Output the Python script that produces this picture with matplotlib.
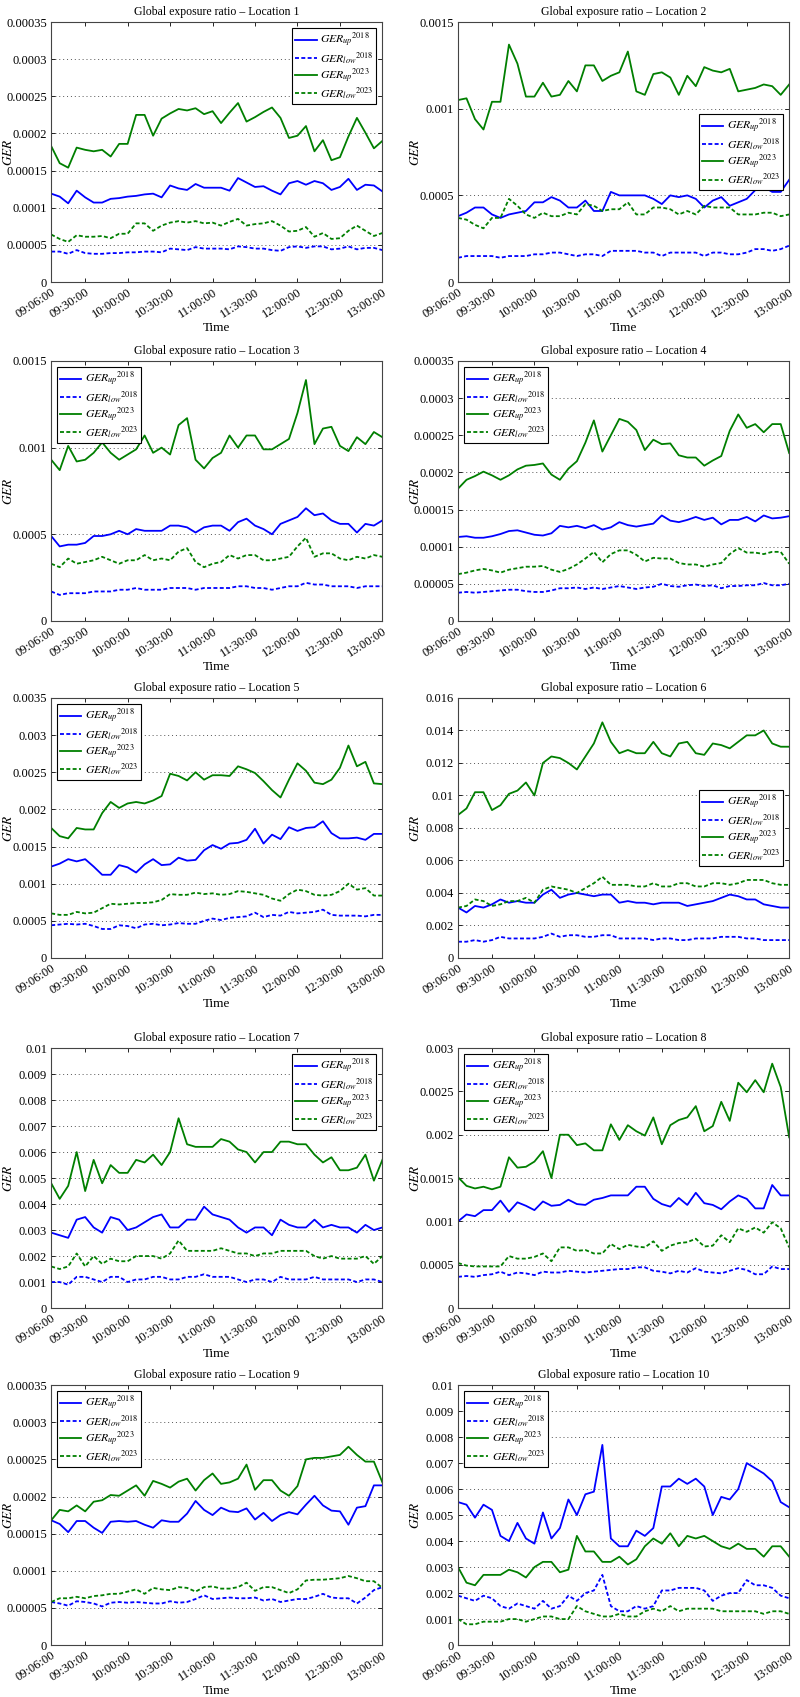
import numpy as np
import matplotlib
matplotlib.use('Agg')
import matplotlib.pyplot as plt
from matplotlib.ticker import FuncFormatter, MultipleLocator

plt.rcParams['font.family'] = ['Liberation Serif', 'DejaVu Serif']
plt.rcParams['mathtext.fontset'] = 'stix'

# sample times: every 6 minutes from 09:06 to 13:00 (minutes after 09:00)
minutes = np.arange(6, 241, 6)
tick_minutes = [6, 30, 60, 90, 120, 150, 180, 210, 240]
tick_labels = ['09:06:00', '09:30:00', '10:00:00', '10:30:00', '11:00:00',
               '11:30:00', '12:00:00', '12:30:00', '13:00:00']

# Location 1
loc1_up18 = [0.000119, 0.000115, 0.000106, 0.000123, 0.000114, 0.000107, 0.000107, 0.000112, 0.000113, 0.000115,
             0.000116, 0.000118, 0.000119, 0.000114, 0.00013, 0.000126, 0.000124, 0.000132, 0.000127, 0.000127,
             0.000127, 0.000123, 0.00014, 0.000134, 0.000128, 0.000129, 0.000123, 0.000118, 0.000133, 0.000136,
             0.000131, 0.000136, 0.000133, 0.000124, 0.000128, 0.000139, 0.000124, 0.000131, 0.00013, 0.000122]
loc1_low18 = [0.000041, 0.000041, 0.000038, 0.000043, 0.000039, 0.000038, 0.000038, 0.000039, 0.000039, 0.00004,
              0.00004, 0.000041, 0.000041, 0.00004, 0.000045, 0.000044, 0.000043, 0.000047, 0.000045, 0.000045,
              0.000045, 0.000044, 0.000048, 0.000047, 0.000045, 0.000045, 0.000043, 0.000042, 0.000047, 0.000048,
              0.000046, 0.000048, 0.000048, 0.000044, 0.000045, 0.000048, 0.000044, 0.000046, 0.000046, 0.000043]
loc1_up23 = [0.000183, 0.00016, 0.000154, 0.000181, 0.000178, 0.000176, 0.000178, 0.000169, 0.000186, 0.000186,
             0.000225, 0.000225, 0.000197, 0.00022, 0.000227, 0.000233, 0.000231, 0.000234, 0.000226, 0.00023,
             0.000214, 0.000228, 0.000241, 0.000216, 0.000222, 0.000229, 0.000235, 0.000221, 0.000194, 0.000197,
             0.00021, 0.000176, 0.000191, 0.000164, 0.000168, 0.000196, 0.000221, 0.000201, 0.00018, 0.00019]
loc1_low23 = [0.000064, 0.000058, 0.000054, 0.000063, 0.000061, 0.000061, 0.000062, 0.000059, 0.000065, 0.000065,
              0.000079, 0.000079, 0.000069, 0.000076, 0.00008, 0.000082, 0.00008, 0.000082, 0.000079, 0.00008,
              0.000076, 0.000081, 0.000085, 0.000076, 0.000078, 0.000079, 0.000082, 0.000076, 0.000068, 0.000069,
              0.000074, 0.000061, 0.000066, 0.000058, 0.000059, 0.000069, 0.000076, 0.000069, 0.000062, 0.000066]

# Location 2
loc2_up18 = [0.00038, 0.0004, 0.00043, 0.00043, 0.00039, 0.00037, 0.00039, 0.0004, 0.00041, 0.00046,
             0.00046, 0.00049, 0.00047, 0.00043, 0.00043, 0.00047, 0.00041, 0.00041, 0.00052, 0.0005,
             0.0005, 0.0005, 0.0005, 0.00048, 0.00045, 0.0005, 0.00049, 0.0005, 0.00048, 0.00043,
             0.00047, 0.00049, 0.00044, 0.00046, 0.00048, 0.00053, 0.00055, 0.00052, 0.00052, 0.00059]
loc2_low18 = [0.00014, 0.00015, 0.00015, 0.00015, 0.00015, 0.00014, 0.00015, 0.00015, 0.00015, 0.00016,
              0.00016, 0.00017, 0.00017, 0.00016, 0.00015, 0.00016, 0.00016, 0.00015, 0.00018, 0.00018,
              0.00018, 0.00018, 0.00017, 0.00017, 0.00015, 0.00017, 0.00017, 0.00017, 0.00017, 0.00015,
              0.00017, 0.00017, 0.00016, 0.00016, 0.00017, 0.00019, 0.00019, 0.00018, 0.00019, 0.00021]
loc2_up23 = [0.00105, 0.00106, 0.00094, 0.00088, 0.00104, 0.00104, 0.00137, 0.00126, 0.00107, 0.00107,
             0.00115, 0.00107, 0.00108, 0.00116, 0.0011, 0.00125, 0.00125, 0.00116, 0.00119, 0.00121,
             0.00133, 0.0011, 0.00108, 0.0012, 0.00121, 0.00118, 0.00108, 0.00119, 0.00113, 0.00124,
             0.00122, 0.00121, 0.00123, 0.0011, 0.00111, 0.00112, 0.00114, 0.00113, 0.00108, 0.00114]
loc2_low23 = [0.00037, 0.00036, 0.00033, 0.00031, 0.00037, 0.00037, 0.00048, 0.00044, 0.00039, 0.00037,
              0.0004, 0.00038, 0.00038, 0.0004, 0.00039, 0.00045, 0.00044, 0.00041, 0.00042, 0.00042,
              0.00046, 0.00039, 0.00039, 0.00043, 0.00043, 0.00042, 0.00039, 0.00041, 0.00039, 0.00044,
              0.00043, 0.00043, 0.00043, 0.00039, 0.00039, 0.00039, 0.0004, 0.0004, 0.00038, 0.00039]

# Location 3
loc3_up18 = [0.00049, 0.00043, 0.00044, 0.00044, 0.00045, 0.00049, 0.00049, 0.0005, 0.00052, 0.0005,
             0.00053, 0.00052, 0.00052, 0.00052, 0.00055, 0.00055, 0.00054, 0.00051, 0.00054, 0.00055,
             0.00055, 0.00052, 0.00057, 0.00059, 0.00055, 0.00053, 0.0005, 0.00056, 0.00058, 0.0006,
             0.00065, 0.00061, 0.00062, 0.00058, 0.00056, 0.00056, 0.00051, 0.00056, 0.00055, 0.00058]
loc3_low18 = [0.00017, 0.00015, 0.00016, 0.00016, 0.00016, 0.00017, 0.00017, 0.00017, 0.00018, 0.00018,
              0.00019, 0.00018, 0.00018, 0.00018, 0.00019, 0.00019, 0.00019, 0.00018, 0.00019, 0.00019,
              0.00019, 0.00019, 0.0002, 0.0002, 0.00019, 0.00019, 0.00018, 0.00019, 0.0002, 0.0002,
              0.00022, 0.00021, 0.00021, 0.0002, 0.0002, 0.0002, 0.00019, 0.0002, 0.0002, 0.0002]
loc3_up23 = [0.00093, 0.00087, 0.00101, 0.00092, 0.00093, 0.00097, 0.00103, 0.00097, 0.00093, 0.00096,
             0.00099, 0.00107, 0.00097, 0.001, 0.00096, 0.00113, 0.00117, 0.00093, 0.00088, 0.00094,
             0.00097, 0.00107, 0.001, 0.00107, 0.00107, 0.00099, 0.00099, 0.00102, 0.00105, 0.0012,
             0.00139, 0.00102, 0.00111, 0.00112, 0.00101, 0.00098, 0.00106, 0.00102, 0.00109, 0.00106]
loc3_low23 = [0.00033, 0.00031, 0.00036, 0.00033, 0.00034, 0.00035, 0.00037, 0.00035, 0.00033, 0.00035,
              0.00035, 0.00038, 0.00035, 0.00036, 0.00035, 0.0004, 0.00042, 0.00034, 0.00031, 0.00033,
              0.00034, 0.00038, 0.00036, 0.00038, 0.00038, 0.00035, 0.00035, 0.00036, 0.00037, 0.00043,
              0.00048, 0.00037, 0.00039, 0.00039, 0.00036, 0.00035, 0.00037, 0.00036, 0.00038, 0.00037]

# Location 4
loc4_up18 = [0.000113, 0.000114, 0.000112, 0.000112, 0.000114, 0.000117, 0.000121, 0.000122, 0.000119, 0.000116,
             0.000115, 0.000118, 0.000128, 0.000126, 0.000128, 0.000125, 0.000129, 0.000123, 0.000126, 0.000133,
             0.000129, 0.000127, 0.000129, 0.000131, 0.000142, 0.000135, 0.000133, 0.000136, 0.00014, 0.000136,
             0.000139, 0.00013, 0.000136, 0.000136, 0.00014, 0.000134, 0.000142, 0.000138, 0.000139, 0.000141]
loc4_low18 = [0.000038, 0.000039, 0.000038, 0.000039, 0.00004, 0.000041, 0.000042, 0.000042, 0.00004, 0.000039,
              0.000039, 0.000041, 0.000044, 0.000044, 0.000045, 0.000043, 0.000045, 0.000043, 0.000045, 0.000047,
              0.000045, 0.000043, 0.000045, 0.000046, 0.00005, 0.000047, 0.000046, 0.000048, 0.000049, 0.000047,
              0.000048, 0.000044, 0.000047, 0.000047, 0.000048, 0.000048, 0.000051, 0.000048, 0.000048, 0.00005]
loc4_up23 = [0.000178, 0.00019, 0.000195, 0.000201, 0.000196, 0.00019, 0.000196, 0.000204, 0.000209, 0.00021,
             0.000212, 0.000197, 0.00019, 0.000205, 0.000215, 0.00024, 0.00027, 0.000228, 0.00025, 0.000272,
             0.000268, 0.000257, 0.00023, 0.000244, 0.000238, 0.000239, 0.000223, 0.00022, 0.00022, 0.000209,
             0.000216, 0.000222, 0.000256, 0.000278, 0.00026, 0.000265, 0.000254, 0.000265, 0.000265, 0.000226]
loc4_low23 = [0.000063, 0.000065, 0.000068, 0.00007, 0.000068, 0.000065, 0.000069, 0.000071, 0.000073, 0.000073,
              0.000074, 0.000069, 0.000066, 0.00007, 0.000076, 0.000084, 0.000093, 0.000079, 0.00009, 0.000095,
              0.000095, 0.000089, 0.00008, 0.000085, 0.000084, 0.000084, 0.000078, 0.000076, 0.000076, 0.000073,
              0.000076, 0.000078, 0.00009, 0.000098, 0.000092, 0.000092, 0.00009, 0.000093, 0.000093, 0.000077]

# Location 5
loc5_up18 = [0.00123, 0.00127, 0.00133, 0.0013, 0.00133, 0.00123, 0.00112, 0.00112, 0.00125, 0.00122,
             0.00115, 0.00126, 0.00133, 0.00125, 0.00126, 0.00135, 0.00131, 0.00132, 0.00145, 0.00152,
             0.00147, 0.00154, 0.00155, 0.00159, 0.00174, 0.00154, 0.00166, 0.0016, 0.00176, 0.00171,
             0.00175, 0.00176, 0.00184, 0.00168, 0.00161, 0.00161, 0.00162, 0.00159, 0.00167, 0.00167]
loc5_low18 = [0.00044, 0.00045, 0.00046, 0.00045, 0.00046, 0.00043, 0.00039, 0.00039, 0.00044, 0.00043,
              0.0004, 0.00045, 0.00046, 0.00044, 0.00045, 0.00047, 0.00046, 0.00046, 0.0005, 0.00053,
              0.00051, 0.00054, 0.00055, 0.00056, 0.00061, 0.00055, 0.00058, 0.00057, 0.00062, 0.0006,
              0.00061, 0.00062, 0.00065, 0.00058, 0.00057, 0.00057, 0.00057, 0.00056, 0.00058, 0.00058]
loc5_up23 = [0.00175, 0.00164, 0.00161, 0.00175, 0.00173, 0.00173, 0.00195, 0.0021, 0.00202, 0.00208,
             0.0021, 0.00208, 0.00212, 0.00218, 0.00248, 0.00245, 0.00239, 0.0025, 0.0024, 0.00246,
             0.00246, 0.00245, 0.00258, 0.00254, 0.00249, 0.00238, 0.00226, 0.00216, 0.0024, 0.00262,
             0.00252, 0.00236, 0.00234, 0.0024, 0.00256, 0.00286, 0.00258, 0.00264, 0.00235, 0.00234]
loc5_low23 = [0.0006, 0.00058, 0.00058, 0.00062, 0.0006, 0.00061, 0.00067, 0.00073, 0.00072, 0.00073,
              0.00074, 0.00074, 0.00075, 0.00078, 0.00086, 0.00085, 0.00085, 0.00088, 0.00086, 0.00087,
              0.00085, 0.00086, 0.0009, 0.00089, 0.00087, 0.00085, 0.0008, 0.00077, 0.00086, 0.00092,
              0.0009, 0.00085, 0.00084, 0.00085, 0.0009, 0.001, 0.00092, 0.00094, 0.00084, 0.00084]

# Location 6
loc6_up18 = [0.0031, 0.0028, 0.0032, 0.0031, 0.0033, 0.0036, 0.0034, 0.0035, 0.0034, 0.0034,
             0.0039, 0.0042, 0.0037, 0.0039, 0.004, 0.0039, 0.0038, 0.0039, 0.0039, 0.0034,
             0.0035, 0.0034, 0.0034, 0.0033, 0.0034, 0.0034, 0.0034, 0.0032, 0.0033, 0.0034,
             0.0035, 0.0037, 0.0039, 0.0038, 0.0036, 0.0036, 0.0033, 0.0032, 0.0031, 0.0031]
loc6_low18 = [0.001, 0.001, 0.0011, 0.001, 0.0011, 0.0013, 0.0012, 0.0012, 0.0012, 0.0012,
              0.0013, 0.0015, 0.0013, 0.0014, 0.0014, 0.0013, 0.0013, 0.0014, 0.0014, 0.0012,
              0.0012, 0.0012, 0.0012, 0.0011, 0.0012, 0.0012, 0.0011, 0.0011, 0.0012, 0.0012,
              0.0012, 0.0013, 0.0013, 0.0013, 0.0012, 0.0012, 0.0011, 0.0011, 0.0011, 0.0011]
loc6_up23 = [0.0088, 0.0092, 0.0102, 0.0102, 0.0091, 0.0094, 0.0101, 0.0103, 0.0108, 0.01,
             0.012, 0.0124, 0.0123, 0.012, 0.0116, 0.0124, 0.0132, 0.0145, 0.0133, 0.0126,
             0.0128, 0.0126, 0.0126, 0.0133, 0.0126, 0.0124, 0.0132, 0.0133, 0.0126, 0.0125,
             0.0132, 0.0131, 0.0129, 0.0133, 0.0137, 0.0137, 0.014, 0.0132, 0.013, 0.013]
loc6_low23 = [0.0031, 0.0032, 0.0036, 0.0035, 0.0032, 0.0033, 0.0035, 0.0035, 0.0037, 0.0034,
              0.0042, 0.0044, 0.0043, 0.0042, 0.004, 0.0043, 0.0046, 0.005, 0.0045, 0.0045,
              0.0045, 0.0044, 0.0044, 0.0046, 0.0044, 0.0044, 0.0046, 0.0046, 0.0044, 0.0044,
              0.0046, 0.0046, 0.0045, 0.0046, 0.0048, 0.0048, 0.0048, 0.0046, 0.0045, 0.0045]

# Location 7
loc7_up18 = [0.0029, 0.0028, 0.0027, 0.0034, 0.0035, 0.0031, 0.0029, 0.0035, 0.0034, 0.003,
             0.0031, 0.0033, 0.0035, 0.0036, 0.0031, 0.0031, 0.0034, 0.0034, 0.0039, 0.0036,
             0.0035, 0.0034, 0.0031, 0.0029, 0.0031, 0.0031, 0.0028, 0.0034, 0.0032, 0.0031,
             0.0031, 0.0034, 0.0031, 0.0032, 0.0031, 0.0031, 0.0029, 0.0032, 0.003, 0.0031]
loc7_low18 = [0.001, 0.001, 0.0009, 0.0012, 0.0012, 0.0011, 0.001, 0.0012, 0.0012, 0.001,
              0.0011, 0.0011, 0.0012, 0.0012, 0.0011, 0.0011, 0.0012, 0.0012, 0.0013, 0.0012,
              0.0012, 0.0012, 0.0011, 0.001, 0.0011, 0.0011, 0.001, 0.0012, 0.0011, 0.0011,
              0.0011, 0.0012, 0.0011, 0.0011, 0.0011, 0.0011, 0.001, 0.0011, 0.0011, 0.001]
loc7_up23 = [0.0048, 0.0042, 0.0047, 0.006, 0.0045, 0.0057, 0.0048, 0.0055, 0.0052, 0.0052,
             0.0057, 0.0056, 0.0059, 0.0055, 0.006, 0.0073, 0.0063, 0.0062, 0.0062, 0.0062,
             0.0065, 0.0064, 0.0061, 0.006, 0.0056, 0.006, 0.006, 0.0064, 0.0064, 0.0063,
             0.0063, 0.0059, 0.0056, 0.0058, 0.0053, 0.0053, 0.0054, 0.0059, 0.0049, 0.0057]
loc7_low23 = [0.0016, 0.0015, 0.0016, 0.0021, 0.0016, 0.002, 0.0017, 0.0019, 0.0018, 0.0018,
              0.002, 0.002, 0.002, 0.0019, 0.0021, 0.0026, 0.0022, 0.0022, 0.0022, 0.0022,
              0.0023, 0.0022, 0.0021, 0.0021, 0.002, 0.0021, 0.0021, 0.0022, 0.0022, 0.0022,
              0.0022, 0.002, 0.0019, 0.002, 0.0019, 0.0019, 0.0019, 0.002, 0.0017, 0.002]

# Location 8
loc8_up18 = [0.001, 0.00108, 0.00106, 0.00113, 0.00113, 0.00124, 0.00111, 0.00122, 0.00118, 0.00113,
             0.00123, 0.00118, 0.00119, 0.00125, 0.0012, 0.00119, 0.00125, 0.00127, 0.0013, 0.0013,
             0.0013, 0.0014, 0.0014, 0.00126, 0.0012, 0.00117, 0.00127, 0.00119, 0.00133, 0.00121,
             0.00119, 0.00114, 0.00123, 0.0013, 0.00126, 0.00115, 0.00115, 0.00142, 0.0013, 0.0013]
loc8_low18 = [0.00036, 0.00037, 0.00036, 0.00038, 0.00039, 0.00042, 0.00038, 0.00041, 0.0004, 0.00038,
              0.00042, 0.00041, 0.00041, 0.00043, 0.00042, 0.00041, 0.00042, 0.00043, 0.00044, 0.00045,
              0.00045, 0.00047, 0.00047, 0.00043, 0.00042, 0.0004, 0.00043, 0.00041, 0.00046, 0.00042,
              0.00041, 0.0004, 0.00043, 0.00046, 0.00044, 0.00039, 0.00039, 0.00048, 0.00045, 0.00045]
loc8_up23 = [0.00151, 0.00141, 0.00138, 0.0014, 0.00137, 0.0014, 0.00174, 0.00162, 0.00163, 0.00169,
             0.00181, 0.0015, 0.002, 0.002, 0.00188, 0.0019, 0.00182, 0.00182, 0.00212, 0.00194,
             0.00211, 0.00204, 0.00199, 0.0022, 0.00189, 0.00211, 0.00217, 0.0022, 0.00233, 0.00204,
             0.0021, 0.00238, 0.00216, 0.0026, 0.00249, 0.00263, 0.00249, 0.00282, 0.00255, 0.00197]
loc8_low23 = [0.00052, 0.00049, 0.00048, 0.00048, 0.00048, 0.00048, 0.0006, 0.00057, 0.00057, 0.00059,
              0.00063, 0.00054, 0.0007, 0.0007, 0.00066, 0.00067, 0.00063, 0.00063, 0.00074, 0.00068,
              0.00073, 0.00071, 0.0007, 0.00077, 0.00066, 0.00072, 0.00075, 0.00076, 0.0008, 0.00071,
              0.00072, 0.00084, 0.00076, 0.00092, 0.00088, 0.00093, 0.00087, 0.00099, 0.00092, 0.0007]

# Location 9
loc9_up18 = [0.000168, 0.000163, 0.000152, 0.000167, 0.000167, 0.000158, 0.000151, 0.000166, 0.000167, 0.000166,
             0.000167, 0.000162, 0.000158, 0.000168, 0.000166, 0.000166, 0.000177, 0.000194, 0.000182, 0.000175,
             0.000185, 0.00018, 0.000179, 0.000184, 0.000169, 0.000178, 0.000167, 0.000175, 0.000179, 0.000176,
             0.000189, 0.000201, 0.000188, 0.000181, 0.00018, 0.000162, 0.000185, 0.000187, 0.000215, 0.000215]
loc9_low18 = [0.000058, 0.000056, 0.000053, 0.000059, 0.000058, 0.000056, 0.000052, 0.000057, 0.000058, 0.000057,
              0.000058, 0.000057, 0.000056, 0.000056, 0.000059, 0.000057, 0.000058, 0.000062, 0.000067, 0.000062,
              0.000063, 0.000064, 0.000063, 0.000063, 0.000064, 0.00006, 0.000062, 0.000058, 0.00006, 0.000062,
              0.000062, 0.000065, 0.000069, 0.000064, 0.000063, 0.000063, 0.000056, 0.000064, 0.000074, 0.000078]
loc9_up23 = [0.000168, 0.000182, 0.00018, 0.000188, 0.00018, 0.000193, 0.000195, 0.000202, 0.000201, 0.000208,
             0.000215, 0.000201, 0.000221, 0.000217, 0.000212, 0.00022, 0.000224, 0.000208, 0.000222, 0.000231,
             0.000217, 0.000219, 0.000224, 0.000243, 0.000209, 0.000222, 0.000222, 0.000208, 0.000201, 0.000214,
             0.00025, 0.000252, 0.000252, 0.000254, 0.000256, 0.000267, 0.000256, 0.000247, 0.000247, 0.000219]
loc9_low23 = [0.000058, 0.000063, 0.000063, 0.000065, 0.000063, 0.000066, 0.000067, 0.000069, 0.000069, 0.000072,
              0.000075, 0.000069, 0.000077, 0.000075, 0.000074, 0.000078, 0.000077, 0.000072, 0.000078, 0.000079,
              0.000076, 0.000076, 0.000078, 0.000084, 0.000073, 0.000078, 0.000078, 0.000074, 0.00007, 0.000075,
              0.000087, 0.000088, 0.000088, 0.000089, 0.00009, 0.000093, 0.00009, 0.000086, 0.000086, 0.000077]

# Location 10
loc10_up18 = [0.0055, 0.0054, 0.0049, 0.0054, 0.0052, 0.0042, 0.004, 0.0047, 0.0041, 0.0039,
              0.0051, 0.0041, 0.0045, 0.0056, 0.005, 0.0058, 0.0059, 0.0077, 0.0041, 0.0038,
              0.0038, 0.0044, 0.0042, 0.0045, 0.0061, 0.0061, 0.0064, 0.0062, 0.0064, 0.0061,
              0.005, 0.0057, 0.0056, 0.006, 0.007, 0.0068, 0.0066, 0.0063, 0.0055, 0.0053]
loc10_low18 = [0.0019, 0.0018, 0.0017, 0.0019, 0.0018, 0.0015, 0.0014, 0.0016, 0.0015, 0.0014,
               0.0017, 0.0014, 0.0015, 0.0019, 0.0017, 0.002, 0.0021, 0.0027, 0.0015, 0.0013,
               0.0013, 0.0015, 0.0014, 0.0015, 0.0021, 0.0021, 0.0022, 0.0022, 0.0022, 0.0021,
               0.0017, 0.0019, 0.002, 0.002, 0.0025, 0.0023, 0.0023, 0.0022, 0.0019, 0.0018]
loc10_up23 = [0.003, 0.0024, 0.0023, 0.0027, 0.0027, 0.0027, 0.0029, 0.0028, 0.0026, 0.003,
              0.0032, 0.0032, 0.0028, 0.0029, 0.0042, 0.0036, 0.0036, 0.0032, 0.0032, 0.0034,
              0.0031, 0.0033, 0.0038, 0.0041, 0.0039, 0.0043, 0.0038, 0.0042, 0.0041, 0.0042,
              0.004, 0.0038, 0.0037, 0.0039, 0.0037, 0.0037, 0.0034, 0.0038, 0.0038, 0.0034]
loc10_low23 = [0.001, 0.0008, 0.0008, 0.0009, 0.0009, 0.0009, 0.001, 0.001, 0.0009, 0.001,
               0.0011, 0.0011, 0.001, 0.001, 0.0015, 0.0013, 0.0012, 0.0011, 0.0011, 0.0012,
               0.0011, 0.0011, 0.0013, 0.0014, 0.0013, 0.0015, 0.0013, 0.0014, 0.0014, 0.0014,
               0.0014, 0.0013, 0.0013, 0.0013, 0.0013, 0.0013, 0.0012, 0.0013, 0.0013, 0.0012]

# y-axis top, tick step and legend position for each location
y_max = [0.00035, 0.0015, 0.0015, 0.00035, 0.0035, 0.016, 0.01, 0.003, 0.00035, 0.01]
y_step = [0.00005, 0.0005, 0.0005, 0.00005, 0.0005, 0.002, 0.001, 0.0005, 0.00005, 0.001]
legend_loc = ['upper right', 'center right', 'upper left', 'upper left', 'upper left',
              'center right', 'upper right', 'upper left', 'upper left', 'upper left']

series = [
    (loc1_up18, loc1_low18, loc1_up23, loc1_low23),
    (loc2_up18, loc2_low18, loc2_up23, loc2_low23),
    (loc3_up18, loc3_low18, loc3_up23, loc3_low23),
    (loc4_up18, loc4_low18, loc4_up23, loc4_low23),
    (loc5_up18, loc5_low18, loc5_up23, loc5_low23),
    (loc6_up18, loc6_low18, loc6_up23, loc6_low23),
    (loc7_up18, loc7_low18, loc7_up23, loc7_low23),
    (loc8_up18, loc8_low18, loc8_up23, loc8_low23),
    (loc9_up18, loc9_low18, loc9_up23, loc9_low23),
    (loc10_up18, loc10_low18, loc10_up23, loc10_low23),
]

labels = [r'$GER_{up}{}^{2018}$', r'$GER_{low}{}^{2018}$',
          r'$GER_{up}{}^{2023}$', r'$GER_{low}{}^{2023}$']
colors = ['#0000ff', '#0000ff', '#007f00', '#007f00']
dash = (0, (2.2, 1.3))
styles = ['-', dash, '-', dash]


def fmt(v, pos):
    s = f'{v:.6f}'.rstrip('0').rstrip('.')
    return s


fig = plt.figure(figsize=(8, 16.97), dpi=100)

row_bottoms = [0.8338, 0.6341, 0.4355, 0.2292, 0.0306]
col_lefts = [0.064, 0.5725]
ax_w, ax_h = 0.414, 0.1532

for i in range(10):
    r, c = divmod(i, 2)
    ax = fig.add_axes([col_lefts[c], row_bottoms[r], ax_w, ax_h])
    for vals, lab, col, ls in zip(series[i], labels, colors, styles):
        ax.plot(minutes, vals, color=col, linestyle=ls, linewidth=1.3, label=lab)
    ax.set_xlim(6, 240)
    ax.set_ylim(0, y_max[i])
    ax.yaxis.set_major_locator(MultipleLocator(y_step[i]))
    ax.yaxis.set_major_formatter(FuncFormatter(fmt))
    ax.set_xticks(tick_minutes)
    ax.set_xticklabels(tick_labels, rotation=33, ha='right', rotation_mode='anchor')
    ax.tick_params(direction='in', top=True, right=True, labelsize=9, length=3,
                   width=0.6, pad=3)
    ax.grid(axis='y', linestyle=(0, (1, 3)), color='#555555', linewidth=0.7)
    for sp in ax.spines.values():
        sp.set_color('#444444')
        sp.set_linewidth(0.8)
    ax.set_title(f'Global exposure ratio \u2013 Location {i + 1}', fontsize=8.5, pad=5)
    ax.set_xlabel('Time', fontsize=9.5, labelpad=1)
    ax.set_ylabel(r'$GER$', fontsize=9.5)
    ax.yaxis.set_label_coords(-0.11, 0.5)
    leg = ax.legend(loc=legend_loc[i], fontsize=8.5, frameon=True, fancybox=False,
                    edgecolor='black', framealpha=1, labelspacing=0.05,
                    handlelength=1.8, handletextpad=0.3, borderpad=0.25,
                    borderaxespad=0.5)
    leg.get_frame().set_linewidth(0.8)

fig.savefig('out.png', dpi=100)
